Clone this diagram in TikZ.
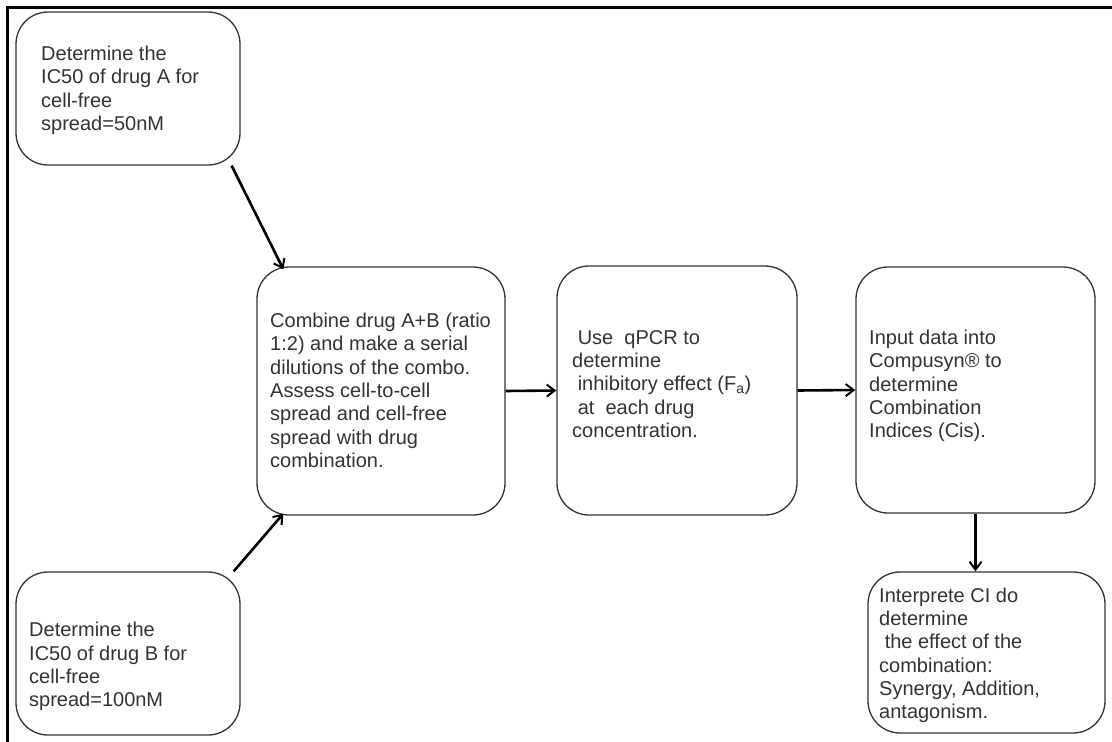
\documentclass[tikz,border=0pt]{standalone}
\usepackage{fontspec}
\setmainfont{Liberation Sans}
\usetikzlibrary{arrows.meta}

\begin{document}
\begin{tikzpicture}[x=1pt, y=-1pt,
    step box/.style={rectangle, rounded corners=32pt, draw=black!80, line width=1.3pt, fill=white},
    step text/.style={anchor=north west, align=left, inner sep=0pt, text=black!80, font=\fontsize{20pt}{23.3pt}\selectfont},
    flow/.style={-{Straight Barb[length=8pt, width=12pt, line width=2pt]}, line width=2.6pt}]
    \useasboundingbox (0,0) rectangle (1112,742);

    % frame (top and left only)
    \draw [line width=3pt] (7.5,742) -- (7.5,7.5) -- (1112,7.5);

    % boxes
    \begin{scope}[every node/.style={step box}]
        \node [minimum width=224pt, minimum height=153pt] (icA) at (128,88.5) {};
        \node [minimum width=224pt, minimum height=163pt] (icB) at (128,653.5) {};
        \node [minimum width=248pt, minimum height=248pt] (combo) at (381,391) {};
        \node [minimum width=240pt, minimum height=249pt] (qpcr) at (677,390.5) {};
        \node [minimum width=239pt, minimum height=246pt] (cis) at (975.5,390) {};
        \node [minimum width=237pt, minimum height=161pt] (interp) at (986.5,652.5) {};
    \end{scope}

    % texts
    \begin{scope}[every node/.style={step text}]
        \node (icA text) at (41,46) {Determine the\\IC50 of drug A for\\cell-free\\spread=50nM};
        \node (icB text) at (29,622) {Determine the\\IC50 of drug B for\\cell-free\\spread=100nM};
        \node (combo text) at (270,313) {Combine drug A+B (ratio\\1:2) and make a serial\\dilutions of the combo.\\Assess cell-to-cell\\spread and cell-free\\spread with drug\\combination.};
        \node (qpcr text) at (572,330) {\ Use\ \ qPCR to\\determine\\\ inhibitory effect (F\textsubscript{a})\\\ at\ \ each drug\\concentration.};
        \node (cis text) at (869,330) {Input data into\\Compusyn® to\\determine\\Combination\\Indices (Cis).};
        \node (interp text) at (879,587.5) {Interprete CI do\\determine\\\ the effect of the\\combination:\\Synergy, Addition,\\antagonism.};
    \end{scope}

    \begin{scope}[flow]
        \draw ([xshift=-9pt]icA.south east) -- ([xshift=27pt, yshift=-3pt]combo.north west);
        \draw ([xshift=-7pt]icB.north east) -- ([xshift=27pt, yshift=2pt]combo.south west);
        \draw (combo.east) -- (qpcr.west);
        \draw (qpcr.east) -- (cis.west);
        \draw (cis.south) -- (cis.south |- interp.north);
    \end{scope}
\end{tikzpicture}
\end{document}
